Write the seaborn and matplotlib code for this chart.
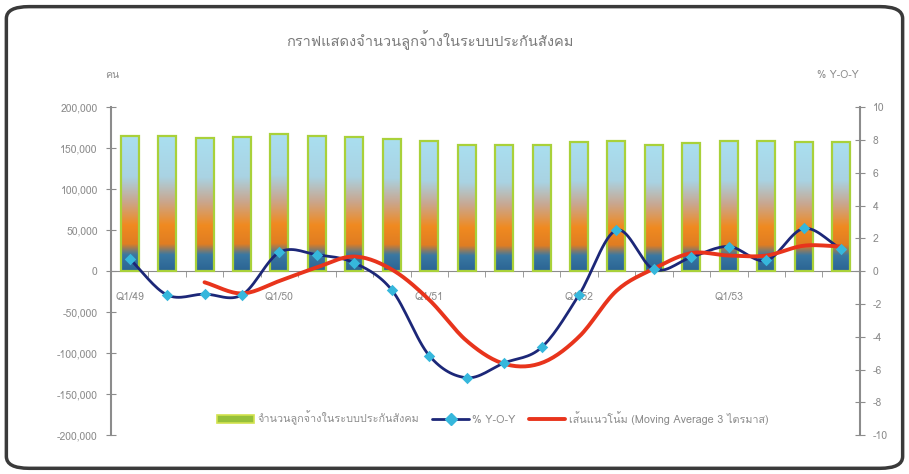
import matplotlib
matplotlib.use('Agg')
import matplotlib.pyplot as plt
import seaborn as sns
import numpy as np
import pandas as pd
from matplotlib import font_manager
from matplotlib.ft2font import FT2Font
from matplotlib.colors import LinearSegmentedColormap
from matplotlib.patches import FancyBboxPatch, Patch
from matplotlib.lines import Line2D

# data
quarters = ['Q1/49', 'Q2/49', 'Q3/49', 'Q4/49',
            'Q1/50', 'Q2/50', 'Q3/50', 'Q4/50',
            'Q1/51', 'Q2/51', 'Q3/51', 'Q4/51',
            'Q1/52', 'Q2/52', 'Q3/52', 'Q4/52',
            'Q1/53', 'Q2/53', 'Q3/53', 'Q4/53']
employees = [164600, 164600, 162600, 163800, 167500, 164600, 163800, 161400,
             158500, 154400, 154400, 154400, 157200, 158100, 154400, 156500,
             158500, 158500, 157200, 157700]
yoy = [0.75, -1.45, -1.4, -1.45, 1.15, 1.0, 0.5, -1.15, -5.15, -6.5,
       -5.6, -4.65, -1.45, 2.5, 0.1, 0.85, 1.5, 0.65, 2.6, 1.35]
moving_avg = [np.nan, np.nan, -0.68, -1.36, -0.6, 0.23, 0.89, 0.1, -1.75, -4.25,
              -5.65, -5.6, -4.0, -1.2, 0.15, 1.1, 0.95, 0.95, 1.55, 1.5]
left_ticks = [-200000, -150000, -100000, -50000, 0, 50000, 100000, 150000, 200000]
right_ticks = [-10, -8, -6, -4, -2, 0, 2, 4, 6, 8, 10]

title = 'กราฟแสดงจำนวนลูกจ้างในระบบประกันสังคม'
bar_label = 'จำนวนลูกจ้างในระบบประกันสังคม'
yoy_label = '% Y-O-Y'
ma_label = 'เส้นแนวโน้ม (Moving Average 3 ไตรมาส)'

sns.set_style('white')


def find_thai_font():
    for f in font_manager.fontManager.ttflist:
        try:
            if 0x0E01 in FT2Font(f.fname).get_charmap():
                return f.name
        except Exception:
            pass
    return None


thai = find_thai_font()
plt.rcParams['font.family'] = [thai, 'DejaVu Sans'] if thai else ['DejaVu Sans']


def smooth(xs, ys, n=16):
    # catmull-rom curve through the points (like Excel "smoothed line")
    xs = np.asarray(xs, float)
    ys = np.asarray(ys, float)
    px = np.concatenate([[2 * xs[0] - xs[1]], xs, [2 * xs[-1] - xs[-2]]])
    py = np.concatenate([[2 * ys[0] - ys[1]], ys, [2 * ys[-1] - ys[-2]]])
    t = np.linspace(0, 1, n, endpoint=False)
    ox, oy = [], []
    for i in range(1, len(px) - 2):
        for arr, out in ((px, ox), (py, oy)):
            p0, p1, p2, p3 = arr[i - 1:i + 3]
            out.extend(0.5 * (2 * p1 + (-p0 + p2) * t
                              + (2 * p0 - 5 * p1 + 4 * p2 - p3) * t ** 2
                              + (-p0 + 3 * p1 - 3 * p2 + p3) * t ** 3))
    ox.append(xs[-1])
    oy.append(ys[-1])
    return np.array(ox), np.array(oy)


grey = '#8c8c8c'
navy = '#1c2778'
cyan = '#36b7dc'
red = '#e8341c'
edge_green = '#a9d13a'

fig = plt.figure(figsize=(9.09, 4.74), dpi=100)
ax1 = fig.add_axes([0.122, 0.082, 0.824, 0.692])

df = pd.DataFrame({'quarter': quarters, 'employees': employees})
sns.barplot(data=df, x='quarter', y='employees', ax=ax1, width=0.48,
            color='#a6dcee', saturation=1, zorder=2)

grad = LinearSegmentedColormap.from_list('bar', [
    (0.0, '#2a6494'), (0.12, '#3a78a2'), (0.2, '#e07d22'), (0.34, '#f08a20'),
    (0.52, '#c9a790'), (0.7, '#a9d3e3'), (1.0, '#aadff0')])
g = np.linspace(0, 1, 256).reshape(-1, 1)
for p in ax1.patches:
    x0, w, h = p.get_x(), p.get_width(), p.get_height()
    p.set_facecolor('none')
    p.set_edgecolor(edge_green)
    p.set_linewidth(1.6)
    p.set_zorder(3)
    im = ax1.imshow(g, extent=[x0, x0 + w, 0, h], origin='lower', aspect='auto',
                    cmap=grad, zorder=2.5)
    im.set_clip_path(p)

ax1.set_xlim(-0.5, len(quarters) - 0.5)
ax1.set_ylim(-200000, 200000)
ax1.set_yticks(left_ticks)
ax1.set_yticklabels([f'{v:,}' for v in left_ticks])
ax1.set_xlabel('')
ax1.set_ylabel('')
ax1.set_xticks(range(0, len(quarters), 4))
ax1.set_xticklabels(quarters[::4])
ax1.set_xticks(np.arange(0.5, len(quarters) - 0.5, 1), minor=True)
ax1.tick_params(axis='x', which='major', length=0, pad=15, labelsize=7.5, labelcolor=grey)
ax1.tick_params(axis='x', which='minor', length=4, direction='out', color=grey, bottom=True)
ax1.tick_params(axis='y', length=7, direction='inout', color=grey, labelsize=7.5,
                labelcolor=grey, left=True, pad=6)
for s in ['top', 'right']:
    ax1.spines[s].set_visible(False)
ax1.spines['bottom'].set_position(('data', 0))
ax1.spines['bottom'].set_color(grey)
ax1.spines['left'].set_color(grey)
ax1.spines['left'].set_linewidth(1.5)

ax2 = ax1.twinx()
sx, sy = smooth(range(len(yoy)), yoy)
sns.lineplot(x=sx, y=sy, ax=ax2, color=navy, linewidth=2, sort=False, zorder=4)
ma_idx = [i for i, v in enumerate(moving_avg) if not np.isnan(v)]
mx, my = smooth(ma_idx, [moving_avg[i] for i in ma_idx])
sns.lineplot(x=mx, y=my, ax=ax2, color=red, linewidth=2.8, sort=False, zorder=5)
sns.scatterplot(x=range(len(yoy)), y=yoy, ax=ax2, marker='D', s=34, color=cyan,
                edgecolor=cyan, linewidth=0, zorder=6)
ax2.set_ylim(-10, 10)
ax2.set_yticks(right_ticks)
ax2.set_yticklabels([str(v) for v in right_ticks])
ax2.tick_params(axis='y', length=7, direction='inout', color=grey, labelsize=7.5,
                labelcolor=grey, right=True, pad=6)
for s in ['top', 'left', 'bottom']:
    ax2.spines[s].set_visible(False)
ax2.spines['right'].set_color(grey)
ax2.spines['right'].set_linewidth(1.5)
ax2.set_xlim(-0.5, len(quarters) - 0.5)

handles = [
    Patch(facecolor='#96c03a', edgecolor='#d2e24e', linewidth=1.2),
    Line2D([], [], color=navy, linewidth=2, marker='D', markersize=6,
           markerfacecolor=cyan, markeredgecolor=cyan),
    Line2D([], [], color=red, linewidth=2.8),
]
ax2.legend(handles, [bar_label, yoy_label, ma_label], loc='center',
           bbox_to_anchor=(0.51, 0.052), ncol=3, frameon=False, fontsize=7.8,
           labelcolor=grey, handlelength=3.4, columnspacing=1.2, handletextpad=0.3)

fig.text(430 / 909, 1 - 40 / 474, title, ha='center', va='center', fontsize=10.5, color='#7a7a7a')
fig.text(112 / 909, 1 - 75 / 474, 'คน', ha='center', va='center', fontsize=7.5, color=grey)
fig.text(838 / 909, 1 - 75 / 474, yoy_label, ha='center', va='center', fontsize=7.5, color=grey)

fig.patches.append(FancyBboxPatch((0.007, 0.012), 0.986, 0.974,
                                  boxstyle='round,pad=0,rounding_size=0.025',
                                  transform=fig.transFigure, fill=False,
                                  edgecolor='#3a3a3a', linewidth=2.5))

fig.savefig('out.png', dpi=100)
